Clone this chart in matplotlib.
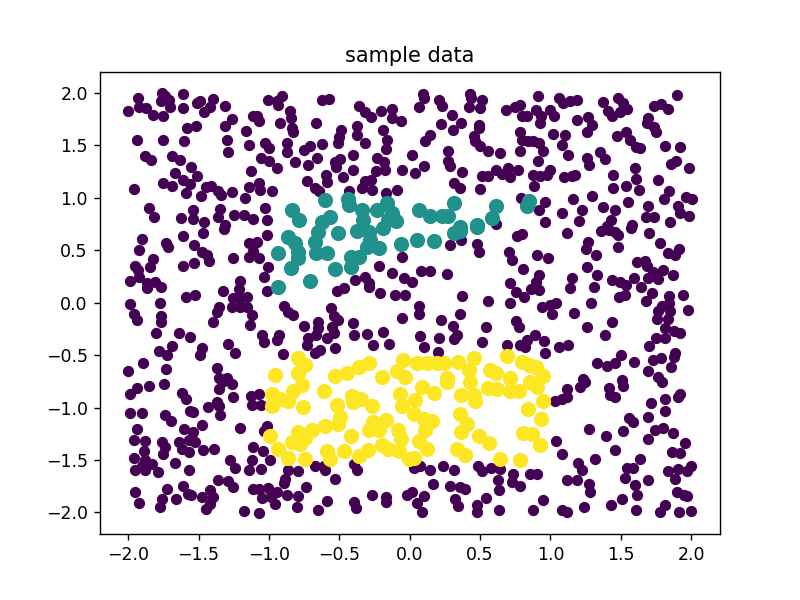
import numpy as np
import matplotlib.pyplot as plt

# puntos (x, y), por clase
fondo = [
    (-2.00, 1.83), (-1.93, 1.95), (-1.92, 1.87), (-1.87, 1.86), (-1.825, 1.79), (-1.76, 2.00), (-1.74, 1.97),
    (-1.77, 1.92), (-1.71, 1.93), (-1.70, 1.87), (-1.75, 1.78), (-1.61, 1.99), (-1.61, 1.86), (-1.51, 1.90),
    (-1.49, 1.92), (-1.40, 1.94), (-1.42, 1.87), (-1.46, 1.82), (-1.31, 1.88), (-1.26, 1.755), (-1.31, 1.69),
    (-1.164, 1.64), (-1.115, 1.78), (-1.52, 1.69), (-1.58, 1.67), (-1.94, 1.55), (-1.75, 1.55), (-1.60, 1.54),
    (-1.30, 1.55), (-1.29, 1.44), (-1.145, 1.50), (-1.88, 1.40), (-1.84, 1.36), (-1.69, 1.40), (-1.635, 1.36),
    (-1.555, 1.29), (-1.51, 1.21), (-1.67, 1.24), (-1.75, 1.14), (-1.69, 1.11), (-1.61, 1.17), (-1.56, 1.13),
    (-1.59, 1.05), (-1.48, 1.015), (-1.45, 1.10), (-1.41, 1.11), (-1.36, 1.07), (-1.34, 1.03), (-1.26, 1.06),
    (-1.17, 1.00), (-1.145, 1.10), (-1.13, 1.26), (-1.96, 1.08), (-1.855, 0.90), (-1.82, 0.82), (-1.625, 0.81),
    (-1.536, 0.88), (-1.536, 0.80), (-1.46, 0.77), (-1.365, 0.82), (-1.35, 0.89), (-1.25, 0.84), (-1.18, 0.84),
    (-1.31, 0.74), (-1.115, 0.80),
    (-1.003, 1.936), (-0.944, 1.92), (-0.908, 1.968), (-0.932, 1.882), (-1.086, 1.777), (-1.07, 1.736),
    (-0.92, 1.714), (-0.85, 1.825), (-0.842, 1.761), (-0.833, 1.666), (-0.826, 1.625), (-0.667, 1.714),
    (-0.624, 1.936), (-0.572, 1.942), (-0.363, 1.873), (-0.316, 1.815), (-0.273, 1.771), (-0.202, 1.825),
    (-0.122, 1.847), (-0.122, 1.761), (-0.063, 1.73), (-0.375, 1.688), (-0.375, 1.603), (-0.316, 1.523),
    (-0.186, 1.644), (-0.162, 1.549), (-0.169, 1.466), (-0.487, 1.644), (-0.501, 1.58), (-0.51, 1.523),
    (-0.624, 1.517), (-0.707, 1.498), (-0.754, 1.46), (-1.027, 1.523), (-0.998, 1.476), (-0.873, 1.523),
    (-0.873, 1.434), (-1.055, 1.38), (-0.998, 1.349), (-0.944, 1.285), (-0.814, 1.339), (-0.719, 1.317),
    (-0.66, 1.38), (-0.53, 1.339), (-0.494, 1.371), (-0.406, 1.412), (-0.406, 1.263), (-0.477, 1.2),
    (-0.525, 1.295), (-0.596, 1.222), (-0.589, 1.149), (-0.731, 1.158), (-0.676, 1.095), (-0.643, 1.063),
    (-0.233, 1.38), (-0.179, 1.339), (-0.24, 1.253), (-0.174, 1.269), (-0.051, 1.269), (-0.316, 1.158),
    (-0.273, 1.174), (-0.34, 1.095), (-0.269, 1.079), (-0.169, 1.047), (-0.091, 1.073), (-1.074, 1.142),
    (-1.062, 1.079), (-0.98, 1.063), (-0.43, 1.063), (-1.027, 0.904), (-1.015, 0.793),
    (0.094, 1.993), (0.104, 1.952), (0.07, 1.863), (0.212, 1.936), (0.229, 1.873), (0.30, 1.793),
    (0.222, 1.707), (0.307, 1.65), (0.364, 1.714), (0.43, 1.993), (0.435, 1.952), (0.419, 1.866),
    (0.513, 1.936), (0.497, 1.86), (0.49, 1.698), (0.49, 1.666), (0.146, 1.603), (0.111, 1.539),
    (0.016, 1.412), (0.454, 1.587), (0.466, 1.539), (0.497, 1.492), (0.554, 1.444), (0.644, 1.428),
    (0.269, 1.444), (0.276, 1.349), (0.284, 1.301), (0.099, 1.301), (0.04, 1.238), (0.371, 1.244),
    (0.312, 1.142), (0.355, 1.095), (0.497, 1.085), (0.513, 1.206), (0.554, 1.212), (0.615, 1.269),
    (0.655, 1.231), (0.696, 1.285), (0.71, 1.20), (0.767, 1.263), (0.686, 1.834), (0.75, 1.866),
    (0.781, 1.882), (0.797, 1.777), (0.833, 1.777), (0.909, 1.974), (0.90, 1.834), (0.932, 1.777),
    (0.928, 1.714), (0.994, 1.834), (1.027, 1.777), (1.058, 1.952), (1.089, 1.904), (0.786, 1.625),
    (0.797, 1.555), (0.838, 1.539), (0.88, 1.539), (0.916, 1.523), (0.947, 1.444), (1.018, 1.612),
    (1.082, 1.507), (0.786, 1.444), (0.909, 1.349), (0.88, 1.222), (0.923, 1.212), (0.976, 1.222),
    (1.00, 1.269), (0.885, 1.111), (1.094, 1.20), (0.79, 1.00), (0.964, 0.958), (0.916, 0.882),
    (0.615, 0.755), (0.964, 0.768), (1.082, 0.857),
    (1.14, 1.92), (1.188, 1.936), (1.188, 1.746), (1.266, 1.771), (1.295, 1.698), (1.259, 1.625),
    (1.377, 1.911), (1.408, 1.825), (1.437, 1.784), (1.479, 1.952), (1.513, 1.904), (1.543, 1.847),
    (1.496, 1.815), (1.733, 1.873), (1.787, 1.898), (1.835, 1.847), (1.899, 1.984), (1.697, 1.762),
    (1.686, 1.714), (1.733, 1.68), (1.75, 1.625), (1.472, 1.587), (1.536, 1.625), (1.567, 1.555),
    (1.607, 1.482), (1.638, 1.472), (1.811, 1.498), (1.922, 1.482), (1.105, 1.603), (1.124, 1.412),
    (1.259, 1.38), (1.271, 1.317), (1.354, 1.434), (1.385, 1.371), (1.152, 1.206), (1.176, 1.222),
    (1.448, 1.222), (1.448, 1.095), (1.536, 1.111), (1.598, 1.285), (1.607, 1.181), (1.631, 1.079),
    (1.768, 1.174), (1.844, 1.063), (1.804, 0.99), (1.858, 1.326), (1.891, 1.349), (1.986, 1.285),
    (1.164, 0.99), (1.295, 1.022), (1.55, 0.958), (1.377, 0.914), (1.223, 0.882), (1.46, 0.882),
    (1.432, 0.793), (1.20, 0.777), (1.692, 0.926), (1.678, 0.819), (1.733, 0.819), (1.91, 0.926),
    (1.962, 1.009), (2.005, 0.99), (1.986, 0.825), (1.922, 0.857), (1.851, 0.768), (1.579, 0.745),
    (1.401, 0.73),
    (-1.903, 0.603), (-1.92, 0.502), (-1.73, 0.572), (-1.72, 0.527), (-1.611, 0.635), (-1.531, 0.549),
    (-1.469, 0.667), (-1.476, 0.486), (-1.441, 0.454), (-1.429, 0.40), (-1.318, 0.699), (-1.256, 0.424),
    (-1.145, 0.565), (-1.145, 0.44), (-1.115, 0.496), (-1.611, 0.352), (-1.531, 0.381), (-1.95, 0.352),
    (-1.927, 0.311), (-1.825, 0.413), (-1.844, 0.343), (-1.986, 0.21), (-1.92, 0.242), (-1.867, 0.191),
    (-1.867, 0.137), (-1.808, 0.20), (-1.768, 0.146), (-1.588, 0.057), (-1.524, 0.073), (-1.99, -0.012),
    (-1.962, -0.108), (-1.934, -0.165), (-1.777, -0.006), (-1.768, -0.127), (-1.768, -0.181),
    (-1.801, -0.292), (-1.642, -0.292), (-1.56, -0.33), (-1.784, -0.457), (-1.725, -0.498),
    (-1.69, -0.413), (-1.477, -0.435), (-1.488, -0.498), (-1.998, -0.647), (-1.896, -0.571),
    (-1.73, -0.635), (-1.37, -0.625), (-1.358, -0.72), (-1.299, -0.72), (-1.294, -0.393), (-1.24, -0.476),
    (-1.209, 0.21), (-1.216, 0.127), (-1.323, 0.115), (-1.252, 0.041), (-1.204, 0.041), (-1.157, 0.051),
    (-1.263, -0.038), (-1.209, -0.038), (-1.157, -0.038), (-1.358, -0.038), (-1.37, -0.086),
    (-1.394, -0.181), (-1.121, -0.117), (-1.133, -0.212),
    (-1.086, 0.581), (-1.015, 0.645), (-1.074, 0.422), (-1.008, 0.343), (-1.032, 0.241), (-1.015, 0.114),
    (-0.89, -0.032), (-0.861, -0.086), (-0.826, -0.117), (-0.754, -0.222), (-0.653, -0.181),
    (-0.648, -0.244), (-0.667, -0.308), (-0.719, -0.34), (-0.731, -0.403), (-0.558, -0.054),
    (-0.541, -0.127), (-0.511, -0.165), (-0.553, -0.228), (-0.534, -0.286), (-0.589, -0.34),
    (-0.53, -0.435), (-0.636, -0.451), (-0.671, -0.482), (-0.399, -0.197), (-0.392, -0.308),
    (-0.304, -0.298), (-0.257, -0.403), (-0.186, -0.276), (-0.145, -0.394), (-1.051, -0.308),
    (-1.032, -0.371), (-0.927, -0.308), (-0.944, -0.355), (-0.897, -0.489), (-0.518, 0.114),
    (-0.47, 0.137), (-0.387, 0.216), (-0.316, 0.248), (-0.292, 0.191), (-0.288, 0.146), (-0.217, 0.349),
    (-0.209, 0.089), (-0.122, 0.28), (-0.055, 0.438), (-0.043, 0.232), (-0.103, 0.073), (-0.032, 0.073),
    (-0.055, -0.149),
    (0.284, 0.549), (0.364, 0.597), (0.478, 0.559), (0.49, 0.486), (0.762, 0.635), (0.797, 0.654),
    (0.703, 0.486), (0.727, 0.407), (0.904, 0.454), (0.98, 0.422), (0.805, 0.321), (0.916, 0.264),
    (0.899, 0.20), (0.861, 0.127), (0.916, 0.121), (0.715, 0.191), (0.757, 0.105), (0.809, 0.051),
    (0.71, 0.0), (0.08, 0.305), (0.146, 0.305), (0.265, 0.273), (0.016, 0.20), (0.371, 0.064),
    (0.554, 0.019), (0.07, -0.032), (0.063, -0.108), (0.222, -0.165), (0.359, -0.108), (0.307, -0.222),
    (0.336, -0.308), (0.312, -0.35), (0.544, -0.235), (0.513, -0.371), (0.212, -0.34), (0.075, -0.317),
    (0.103, -0.425), (0.205, -0.467), (0.757, -0.171), (0.774, -0.228), (0.939, -0.038), (0.999, -0.022),
    (1.041, 0.0), (1.01, -0.108), (0.691, -0.403), (0.786, -0.403), (0.821, -0.425), (0.833, -0.355),
    (0.892, -0.308), (0.956, -0.362), (0.963, -0.482), (1.058, -0.419),
    (1.117, 0.667), (1.361, 0.686), (1.413, 0.692), (1.46, 0.676), (1.479, 0.645), (1.574, 0.708),
    (1.702, 0.667), (1.266, 0.581), (1.252, 0.508), (1.323, 0.454), (1.479, 0.527), (1.78, 0.572),
    (1.839, 0.476), (1.887, 0.454), (1.915, 0.508), (1.614, 0.391), (1.669, 0.40), (1.686, 0.349),
    (1.726, 0.295), (1.797, 0.311), (1.868, 0.264), (1.259, 0.337), (1.33, 0.264), (1.157, 0.232),
    (1.14, 0.137), (1.313, 0.146), (1.437, 0.216), (1.496, 0.20), (1.536, 0.168), (1.591, 0.232),
    (1.692, 0.232), (1.763, 0.222), (1.645, 0.152), (1.721, 0.095), (1.678, 0.019), (1.489, 0.051),
    (1.531, 0.073), (1.29, 0.0), (1.171, -0.102), (1.939, 0.073), (1.844, 0.064), (1.844, 0.0),
    (1.792, -0.032), (1.768, -0.076), (1.851, -0.076), (1.977, -0.07), (1.756, -0.159), (1.839, -0.159),
    (1.815, -0.244), (1.875, -0.267), (1.922, -0.286), (1.749, -0.34), (1.815, -0.34), (1.702, -0.413),
    (1.437, -0.181), (1.259, -0.235), (1.389, -0.308), (1.124, -0.403), (1.503, -0.498), (1.33, -0.571),
    (1.401, -0.603), (1.46, -0.578), (1.591, -0.562), (1.726, -0.546), (1.787, -0.53), (1.887, -0.476),
    (1.875, -0.521), (1.858, -0.616), (1.692, -0.648), (1.768, -0.705), (1.235, -0.73), (1.512, -0.736),
    (-1.986, -0.87), (-1.934, -0.813), (-1.855, -0.791), (-1.749, -0.775), (-1.619, -0.864),
    (-1.588, -0.918), (-1.56, -1.035), (-1.536, -1.045), (-1.436, -0.991), (-1.37, -0.949),
    (-1.358, -0.981), (-1.351, -1.076), (-1.358, -0.822), (-1.334, -0.759), (-1.264, -0.775),
    (-1.256, -0.902), (-1.128, -0.886), (-1.121, -0.972), (-1.986, -1.054), (-1.903, -1.054),
    (-1.737, -1.076), (-1.697, -1.13), (-1.938, -1.203), (-1.477, -1.162), (-1.602, -1.203),
    (-1.541, -1.235), (-1.571, -1.308), (-1.524, -1.33), (-1.642, -1.33), (-1.619, -1.394),
    (-1.571, -1.425), (-1.465, -1.403), (-1.389, -1.394), (-1.957, -1.314), (-1.879, -1.321),
    (-1.761, -1.33), (-1.737, -1.372), (-1.754, -1.448), (-1.891, -1.416), (-1.957, -1.48),
    (-1.879, -1.499), (-1.832, -1.537), (-1.903, -1.553), (-1.95, -1.60), (-1.879, -1.594),
    (-1.785, -1.616), (-1.666, -1.53), (-1.571, -1.60), (-1.204, -1.194), (-1.275, -1.499),
    (-1.24, -1.575), (-1.145, -1.594), (-1.114, -1.378), (-1.121, -1.505), (-1.365, -1.689),
    (-1.294, -1.702), (-1.256, -1.759), (-1.114, -1.775), (-1.95, -1.807), (-1.92, -1.911),
    (-1.721, -1.775), (-1.761, -1.87), (-1.777, -1.949), (-1.659, -1.87), (-1.612, -1.746),
    (-1.578, -1.829), (-1.555, -1.838), (-1.477, -1.854), (-1.418, -1.791), (-1.398, -1.854),
    (-1.418, -1.924), (-1.446, -1.965), (-1.176, -1.987),
    (-1.07, -0.87), (-1.055, -0.972), (-1.015, -1.172), (-1.032, -1.226), (-1.039, -1.416),
    (-0.991, -1.505), (-1.055, -1.584), (-0.861, -1.60), (-0.79, -1.606), (-0.885, -1.68),
    (-0.89, -1.721), (-1.074, -1.775), (-1.003, -1.765), (-0.944, -1.807), (-1.051, -1.861),
    (-0.984, -1.854), (-0.956, -1.918), (-0.873, -1.838), (-0.795, -1.848), (-0.802, -1.949),
    (-1.07, -2.006), (-0.738, -1.759), (-0.676, -1.553), (-0.612, -1.553), (-0.605, -1.60),
    (-0.529, -1.68), (-0.589, -1.892), (-0.653, -1.975), (-0.392, -1.543), (-0.375, -1.594),
    (-0.392, -1.902), (-0.382, -1.956), (-0.269, -1.838), (-0.169, -1.854), (-0.169, -1.902),
    (-0.02, -1.838),
    (0.028, -1.575), (0.075, -1.553), (0.146, -1.60), (0.236, -1.553), (0.312, -1.594), (0.489, -1.562),
    (0.513, -1.606), (0.577, -1.575), (0.643, -1.584), (0.734, -1.632), (0.726, -1.711), (0.786, -1.753),
    (0.852, -1.638), (0.904, -1.638), (0.625, -1.695), (0.632, -1.791), (0.165, -1.734), (0.288, -1.753),
    (0.359, -1.759), (0.395, -1.775), (0.324, -1.87), (0.347, -1.943), (0.544, -1.861), (0.478, -1.934),
    (0.478, -2.00), (0.632, -1.981), (0.099, -1.848), (0.051, -1.911), (0.087, -2.00), (0.016, -1.807),
    (0.88, -1.981), (0.951, -1.88), (1.042, -1.321), (1.082, -1.448), (1.034, -0.94), (1.082, -0.918),
    (1.082, -1.981),
    (1.212, -0.80), (1.247, -0.759), (1.117, -0.822), (1.117, -0.902), (1.418, -0.813), (1.425, -0.876),
    (1.46, -0.902), (1.519, -0.791), (1.792, -0.759), (1.811, -0.918), (1.816, -1.029), (1.716, -0.959),
    (1.922, -0.87), (1.906, -0.902), (1.56, -1.099), (1.59, -1.14), (1.697, -1.092), (1.74, -1.219),
    (1.797, -1.194), (1.697, -1.299), (1.868, -1.245), (1.953, -1.34), (1.271, -1.203), (1.394, -1.267),
    (1.519, -1.226), (1.456, -1.403), (1.863, -1.425), (1.922, -1.435), (1.638, -1.489), (1.543, -1.575),
    (1.59, -1.575), (1.527, -1.67), (1.697, -1.689), (1.602, -1.743), (1.614, -1.838), (1.318, -1.489),
    (1.195, -1.53), (1.223, -1.60), (1.117, -1.695), (1.188, -1.689), (1.271, -1.734), (1.283, -1.807),
    (1.839, -1.606), (1.906, -1.584), (1.887, -1.68), (1.97, -1.606), (2.00, -1.562), (1.899, -1.807),
    (1.97, -1.848), (1.946, -1.838), (1.242, -1.949), (1.117, -1.997), (1.432, -1.934), (1.512, -1.87),
    (1.607, -1.975), (1.78, -2.00), (1.811, -1.934), (1.915, -2.00), (2.00, -1.987),
]

banda = [
    (-0.837, 0.888), (-0.785, 0.793), (-0.605, 0.984), (-0.435, 0.99), (-0.43, 0.936), (-0.34, 0.882),
    (-0.335, 0.793), (-0.233, 0.888), (-0.162, 0.952), (-0.122, 0.857), (-0.155, 0.793), (-0.098, 0.777),
    (-0.624, 0.768), (-0.565, 0.819),
    (0.063, 0.888), (0.146, 0.825), (0.229, 0.831), (0.276, 0.831), (0.312, 0.952), (0.359, 0.723),
    (0.478, 0.745), (0.615, 0.92), (0.584, 0.809), (0.833, 0.926), (0.845, 0.968),
    (-0.861, 0.629), (-0.814, 0.565), (-0.795, 0.486), (-0.79, 0.422), (-0.842, 0.327), (-0.932, 0.473),
    (-0.937, 0.146), (-0.707, 0.21), (-0.671, 0.581), (-0.648, 0.676), (-0.667, 0.473), (-0.589, 0.473),
    (-0.506, 0.661), (-0.53, 0.318), (-0.416, 0.432), (-0.416, 0.343), (-0.363, 0.438), (-0.375, 0.686),
    (-0.292, 0.676), (-0.28, 0.597), (-0.304, 0.527), (-0.217, 0.518), (-0.186, 0.708), (-0.06, 0.559),
    (0.051, 0.597), (0.175, 0.591), (0.312, 0.667), (0.359, 0.686), (0.478, 0.718),
]

caja = [
    (-0.79, -0.53), (-0.743, -0.594), (-0.79, -0.673), (-0.956, -0.689), (-0.53, -0.698), (-0.446, -0.673),
    (-0.363, -0.609), (-0.292, -0.571), (-0.198, -0.711), (-0.091, -0.647), (-0.044, -0.546), (-0.032, -0.705),
    (0.051, -0.578), (0.122, -0.578), (0.193, -0.578), (0.241, -0.571), (0.347, -0.562), (0.454, -0.53),
    (0.419, -0.641), (0.573, -0.641), (0.615, -0.673), (0.691, -0.508), (0.797, -0.562), (0.845, -0.594),
    (0.899, -0.609), (0.951, -0.698), (0.265, -0.721), (0.71, -0.721),
    (-0.98, -0.87), (-0.98, -0.99), (-0.92, -0.918), (-0.861, -0.94), (-0.826, -0.838), (-0.762, -0.781),
    (-0.755, -0.991), (-0.612, -0.838), (-0.518, -0.972), (-0.411, -0.886), (-0.406, -0.949), (-0.345, -0.918),
    (-0.269, -0.981), (-0.067, -0.87), (-0.055, -0.981), (-0.494, -1.092), (-0.506, -1.156), (-0.605, -1.172),
    (-0.691, -1.219), (-0.795, -1.235), (-0.743, -1.289), (-0.833, -1.33), (-0.778, -1.346), (-0.991, -1.267),
    (-0.937, -1.394), (-0.861, -1.48), (-0.743, -1.489), (-0.589, -1.416), (-0.565, -1.489), (-0.47, -1.41),
    (-0.416, -1.276), (-0.359, -1.467), (-0.293, -1.403), (-0.288, -1.213), (-0.257, -1.14), (-0.216, -1.219),
    (-0.169, -1.118), (-0.198, -1.359), (-0.155, -1.394), (-0.084, -1.219), (-0.061, -1.298), (-0.079, -1.41),
    (-0.008, -1.489),
    (0.087, -0.806), (0.175, -0.864), (0.04, -0.927), (0.265, -0.759), (0.426, -0.759), (0.364, -0.876),
    (0.459, -0.876), (0.466, -0.94), (0.56, -0.813), (0.624, -0.822), (0.715, -0.838), (0.774, -0.845),
    (0.857, -0.759), (0.904, -0.806), (0.946, -0.94), (0.838, -1.013), (0.932, -1.108), (0.028, -1.061),
    (0.099, -1.108), (0.158, -1.124), (0.111, -1.213), (0.355, -1.061), (0.407, -1.156), (0.364, -1.235),
    (0.49, -1.267), (0.561, -1.34), (0.336, -1.394), (0.395, -1.457), (0.07, -1.321), (0.122, -1.394),
    (0.032, -1.48), (0.805, -1.245), (0.868, -1.257), (0.923, -1.362), (0.644, -1.489), (0.781, -1.499),
]

# ---------- Figura ----------
fig, ax = plt.subplots(figsize=(6.4, 4.8), dpi=125)

grupos = [(fondo, 0, 30), (banda, 1, 60), (caja, 2, 60)]
cmap = plt.get_cmap("viridis")
for pts, etiqueta, tam in grupos:
    arr = np.array(pts)
    ax.scatter(arr[:, 0], arr[:, 1], color=cmap(etiqueta / 2), s=tam)

ax.set_title("sample data")
fig.savefig("out.png")
